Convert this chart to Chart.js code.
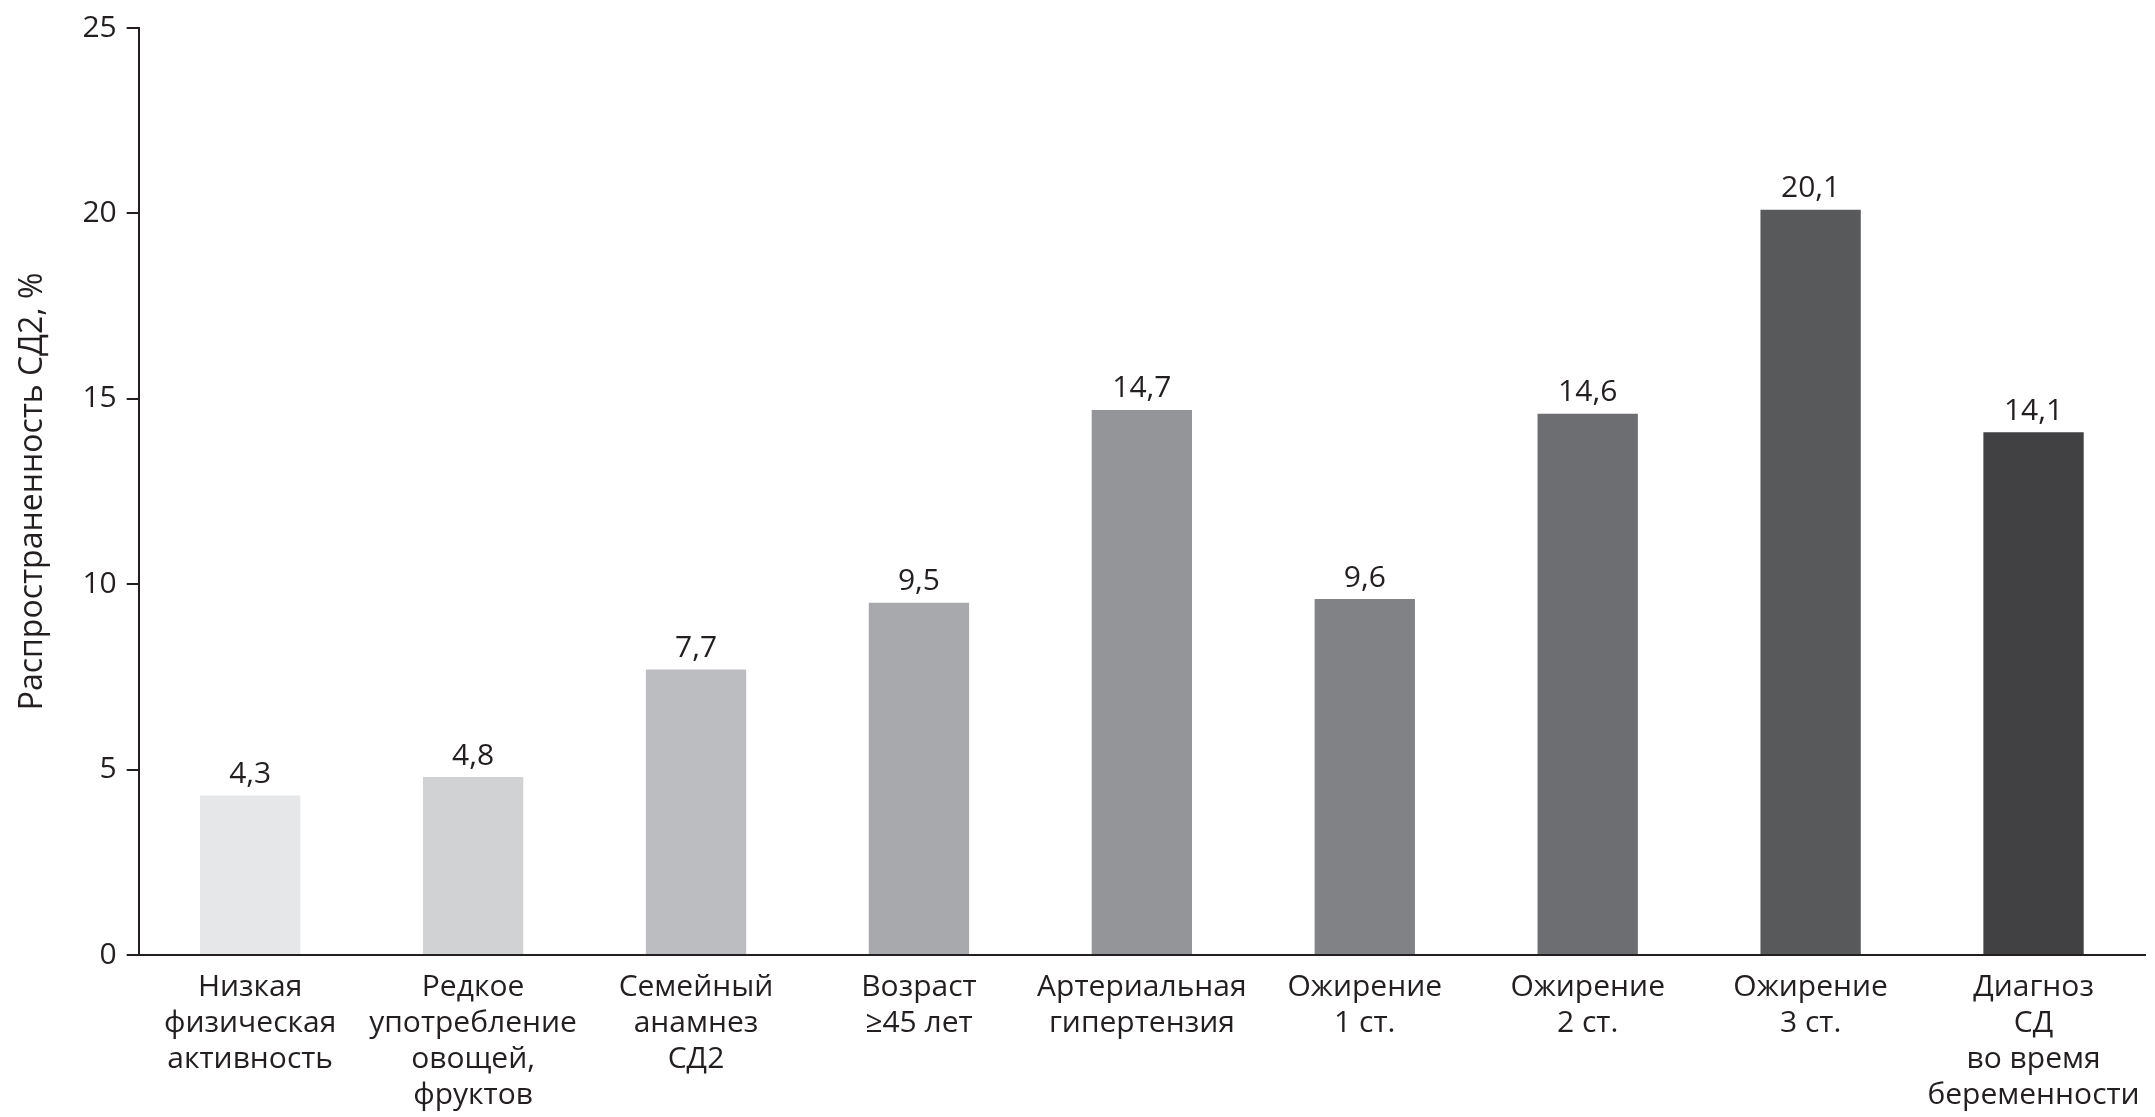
<!DOCTYPE html>
<html><head><meta charset="utf-8">
<script src="https://cdn.jsdelivr.net/npm/chart.js@4"></script>
<style>html,body{margin:0;padding:0;background:#fff}#w{width:2155px;height:1117px}</style>
</head><body><div id="w"><canvas id="c"></canvas></div>
<script>
const categories = [
  ["Низкая","физическая","активность"],
  ["Редкое","употребление","овощей,","фруктов"],
  ["Семейный","анамнез","СД2"],
  ["Возраст","≥45 лет"],
  ["Артериальная","гипертензия"],
  ["Ожирение","1 ст."],
  ["Ожирение","2 ст."],
  ["Ожирение","3 ст."],
  ["Диагноз","СД","во время","беременности"]
];
const values = [4.3, 4.8, 7.7, 9.5, 14.7, 9.6, 14.6, 20.1, 14.1];
const valueLabels = ["4,3","4,8","7,7","9,5","14,7","9,6","14,6","20,1","14,1"];
const barColors = ["#e6e7e8","#d1d2d4","#bcbdc0","#a7a9ac","#939598","#808285","#6d6e71","#58595b","#414042"];
const yTicks = [0,5,10,15,20,25];
const FONT = "'Open Sans', 'Noto Sans', sans-serif";

const valuePlugin = {
  id: 'vals',
  afterDatasetsDraw(chart) {
    const ctx = chart.ctx;
    const meta = chart.getDatasetMeta(0);
    ctx.save();
    ctx.font = "30px " + FONT;
    ctx.fillStyle = "#231f20";
    ctx.textAlign = "center";
    ctx.textBaseline = "bottom";
    meta.data.forEach((el, i) => ctx.fillText(valueLabels[i], el.x, el.y - 6));
    ctx.restore();
  }
};

new Chart(document.getElementById('c'), {
  type: 'bar',
  data: { labels: categories, datasets: [{ data: values, backgroundColor: barColors, barPercentage: 0.45, categoryPercentage: 1 }] },
  options: {
    responsive: true, maintainAspectRatio: false, animation: false,
    layout: { padding: { top: 20, right: 10, left: 10, bottom: 0 } },
    plugins: { legend: { display: false }, tooltip: { enabled: false } },
    scales: {
      x: {
        grid: { display: false, drawTicks: true, tickLength: 10, color: '#231f20' },
        border: { color: '#231f20', width: 2 },
        ticks: { color: '#231f20', font: { size: 30, family: FONT }, maxRotation: 0, autoSkip: false, padding: 4 }
      },
      y: {
        min: 0, max: 25,
        afterBuildTicks: s => { s.ticks = yTicks.map(v => ({ value: v })); },
        grid: { display: true, drawOnChartArea: false, drawTicks: true, tickLength: 12, color: '#231f20', lineWidth: 2 },
        border: { color: '#231f20', width: 2 },
        ticks: { color: '#231f20', font: { size: 30, family: FONT }, padding: 10 },
        title: { display: true, text: 'Распространенность СД2, %', color: '#231f20', font: { size: 32, family: FONT }, padding: { bottom: 20 } }
      }
    }
  },
  plugins: [valuePlugin]
});
</script></body></html>
